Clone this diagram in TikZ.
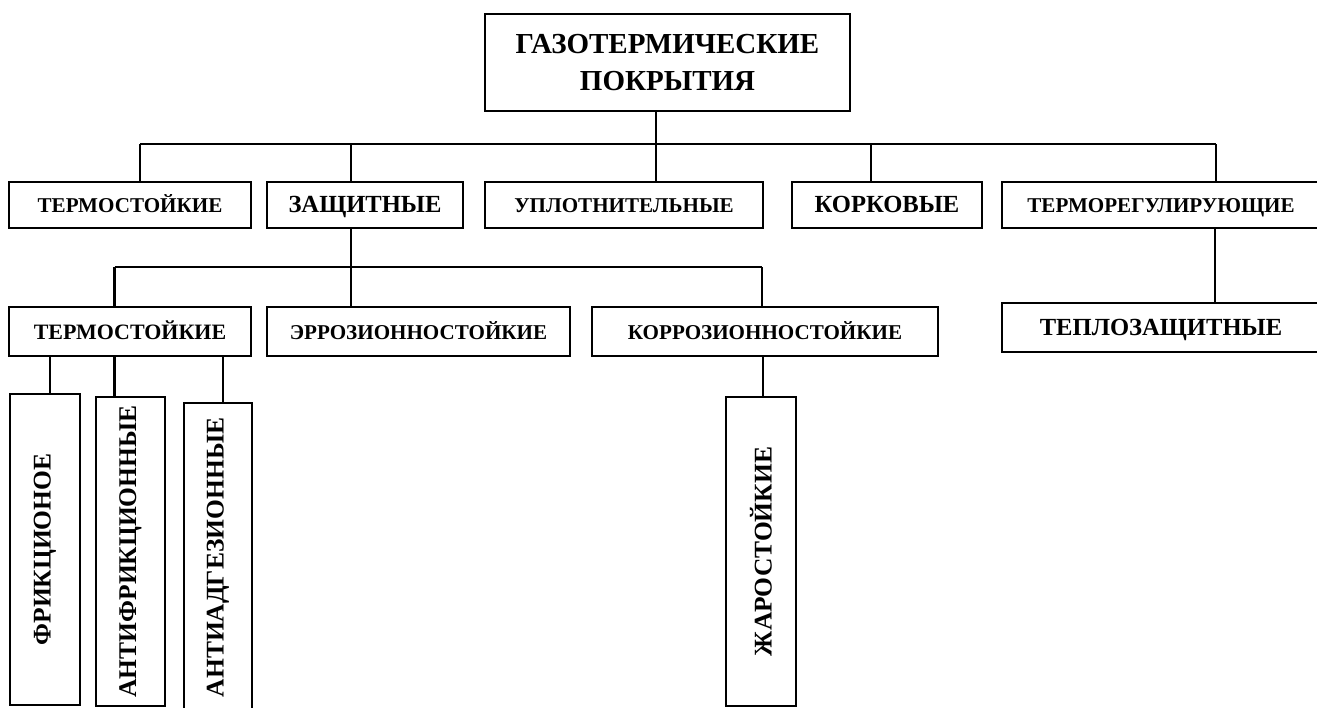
\documentclass[tikz,border=0pt]{standalone}
\usepackage{fontspec}
\setmainfont{Liberation Serif}

\tikzset{
    box/.style={draw, line width=0.9pt, inner sep=0pt, align=center},
    fs/.style={font=\bfseries\fontsize{#1}{#1}\selectfont, text height=0.9em, text depth=0pt},
    upbox/.style={box, rotate=90, font=\bfseries\fontsize{14.5}{14.5}\selectfont},
    link/.style={line width=1.6pt},
}

\begin{document}
\begin{tikzpicture}[x=0.02cm, y=-0.02cm]
    \useasboundingbox (0,0) rectangle (1317,707);

    % --- TOP ---
    \node[box, minimum width=365*0.02cm, minimum height=97*0.02cm,
          font=\bfseries\fontsize{16.5}{21}\selectfont] (title) at (667.5,62.5)
          {ГАЗОТЕРМИЧЕСКИЕ\\ПОКРЫТИЯ};

    % --- LEVEL 1 ---
    \node[box, fs=12, minimum width=242*0.02cm, minimum height=46*0.02cm] (termoA) at (130,205) {ТЕРМОСТОЙКИЕ};
    \node[box, fs=14, minimum width=196*0.02cm, minimum height=46*0.02cm] (zash) at (365,205) {ЗАЩИТНЫЕ};
    \node[box, fs=12, minimum width=278*0.02cm, minimum height=46*0.02cm] (uplot) at (624,205) {УПЛОТНИТЕЛЬНЫЕ};
    \node[box, fs=14, minimum width=190*0.02cm, minimum height=46*0.02cm] (kork) at (887,205) {КОРКОВЫЕ};
    \node[box, fs=12, minimum width=318*0.02cm, minimum height=46*0.02cm] (termoreg) at (1161,205) {ТЕРМОРЕГУЛИРУЮЩИЕ};

    % --- LEVEL 2 ---
    \node[box, fs=12.5, minimum width=242*0.02cm, minimum height=49*0.02cm] (termoB) at (130,331.5) {ТЕРМОСТОЙКИЕ};
    \node[box, fs=12, minimum width=303*0.02cm, minimum height=49*0.02cm] (eroz) at (418.5,331.5) {ЭРРОЗИОННОСТОЙКИЕ};
    \node[box, fs=12, minimum width=346*0.02cm, minimum height=49*0.02cm] (korr) at (765,331.5) {КОРРОЗИОННОСТОЙКИЕ};
    \node[box, fs=14, minimum width=318*0.02cm, minimum height=49*0.02cm] (teplo) at (1161,327.5) {ТЕПЛОЗАЩИТНЫЕ};

    % --- LEVEL 3 (upright boxes) ---
    \node[upbox, minimum width=311*0.02cm, minimum height=70*0.02cm] (fric) at (45,549.5) {ФРИКЦИОНОЕ};
    \node[upbox, minimum width=309*0.02cm, minimum height=69*0.02cm] (afric) at (130.5,551.5) {АНТИФРИКЦИОННЫЕ};
    \node[upbox, minimum width=309*0.02cm, minimum height=68*0.02cm] (aadg) at (218,557.5) {АНТИАДГЕЗИОННЫЕ};
    \node[upbox, minimum width=309*0.02cm, minimum height=70*0.02cm] (zhar) at (761,551.5) {ЖАРОСТОЙКИЕ};

    % Main bus
    \foreach \n/\x in {termoA/140, zash/351, uplot/656, kork/871, termoreg/1216}
        \coordinate (tap-\n) at (\x,144);
    \draw[link] (tap-uplot |- title.south) -- (tap-uplot);
    \draw[link] (tap-termoA) -- (tap-termoreg);
    \foreach \n in {termoA, zash, uplot, kork, termoreg}
        \draw[link] (tap-\n) -- (tap-\n |- \n.north);

    % Protective bus
    \foreach \n/\x in {termoB/114.5, eroz/351, korr/762}
        \coordinate (tap-\n) at (\x,267);
    \draw[link] (tap-eroz |- zash.south) -- (tap-eroz);
    \draw[link] (tap-termoB) -- (tap-korr);
    \foreach \n in {termoB, eroz, korr}
        \draw[link] (tap-\n) -- (tap-\n |- \n.north);

    % Single drops
    \foreach \n/\x in {fric/50, afric/114.5, aadg/223, zhar/763, teplo/1215}
        \coordinate (drop-\n) at (\x,0);
    \foreach \n/\p in {fric/termoB, afric/termoB, aadg/termoB, zhar/korr}
        \draw[link] (drop-\n |- \p.south) -- (drop-\n |- \n.east);
    \draw[link] (drop-teplo |- termoreg.south) -- (drop-teplo |- teplo.north);
\end{tikzpicture}
\end{document}
